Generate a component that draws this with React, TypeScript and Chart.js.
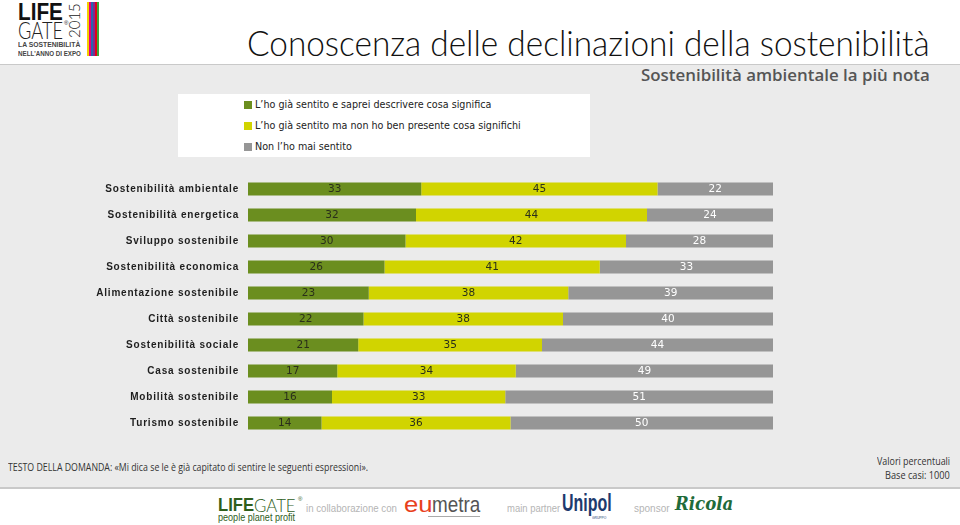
import React, { useEffect, useLayoutEffect, useRef } from 'react';
import { Chart, registerables } from 'chart.js';

Chart.register(...registerables);

const categories = [
  'Sostenibilità ambientale',
  'Sostenibilità energetica',
  'Sviluppo sostenibile',
  'Sostenibilità economica',
  'Alimentazione sostenibile',
  'Città sostenibile',
  'Sostenibilità sociale',
  'Casa sostenibile',
  'Mobilità sostenibile',
  'Turismo sostenibile',
];
const seriesLabels = [
  'L\u2019ho già sentito e saprei descrivere cosa significa',
  'L\u2019ho già sentito ma non ho ben presente cosa significhi',
  'Non l\u2019ho mai sentito',
];
const knowAndDescribe = [33, 32, 30, 26, 23, 22, 21, 17, 16, 14];
const knowVaguely = [45, 44, 42, 41, 38, 38, 35, 34, 33, 36];
const neverHeard = [22, 24, 28, 33, 39, 40, 44, 49, 51, 50];
const seriesColors = ['#6b8e1f', '#d1d400', '#969696'];
const valueColors = ['#2a2f1a', '#2a2f1a', '#ffffff'];

const titleText = 'Conoscenza delle declinazioni della sostenibilità';
const subtitleText = 'Sostenibilità ambientale la più nota';
const questionText = 'TESTO DELLA DOMANDA: «Mi dica se le è già capitato di sentire le seguenti espressioni».';
const noteLines = ['Valori percentuali', 'Base casi: 1000'];

type FitProps = { text: string; left: number; top: number; width: number; style: React.CSSProperties };
function FitText({ text, left, top, width, style }: FitProps) {
  const ref = useRef<HTMLSpanElement>(null);
  useLayoutEffect(() => {
    const el = ref.current;
    if (!el) return;
    el.style.transform = 'none';
    const w = el.offsetWidth;
    if (w > 0) el.style.transform = `scaleX(${width / w})`;
  }, [text, width]);
  return (
    <span
      ref={ref}
      style={{
        position: 'absolute',
        left,
        top,
        whiteSpace: 'nowrap',
        display: 'inline-block',
        transformOrigin: 'left top',
        lineHeight: 1,
        ...style,
      }}
    >
      {text}
    </span>
  );
}

function BarChart() {
  const canvasRef = useRef<HTMLCanvasElement>(null);
  useEffect(() => {
    const canvas = canvasRef.current;
    if (!canvas) return;
    const spacingPlugin = {
      id: 'tickSpacing',
      beforeDraw(chart: any) {
        chart.ctx.letterSpacing = '0.8px';
      },
      beforeDatasetsDraw(chart: any) {
        chart.ctx.letterSpacing = '0px';
      },
    };
    const valuePlugin = {
      id: 'values',
      afterDatasetsDraw(chart: any) {
        const ctx = chart.ctx;
        ctx.save();
        ctx.letterSpacing = '0px';
        ctx.font = '10.5px "DejaVu Sans", Verdana, sans-serif';
        ctx.textAlign = 'center';
        ctx.textBaseline = 'middle';
        chart.data.datasets.forEach((ds: any, di: number) => {
          const meta = chart.getDatasetMeta(di);
          meta.data.forEach((bar: any, i: number) => {
            ctx.fillStyle = valueColors[di];
            ctx.fillText(String(ds.data[i]), (bar.x + bar.base) / 2, bar.y);
          });
        });
        ctx.restore();
      },
    };
    const chart = new Chart(canvas, {
      type: 'bar',
      data: {
        labels: categories,
        datasets: [knowAndDescribe, knowVaguely, neverHeard].map((d, i) => ({
          label: seriesLabels[i],
          data: d,
          backgroundColor: seriesColors[i],
          borderWidth: 0,
          barPercentage: 1,
          categoryPercentage: 0.5,
        })),
      },
      options: {
        indexAxis: 'y',
        animation: false,
        responsive: true,
        maintainAspectRatio: false,
        layout: { padding: { left: 0, right: 187, top: 0, bottom: 0 } },
        plugins: { legend: { display: false }, tooltip: { enabled: false } },
        scales: {
          x: { stacked: true, min: 0, max: 100, display: false },
          y: {
            stacked: true,
            grid: { display: false },
            border: { display: false },
            afterFit(scale: any) {
              scale.width = 248;
              scale.paddingTop = 0;
              scale.paddingBottom = 0;
            },
            ticks: {
              padding: 1,
              color: '#1e1e1e',
              font: { family: '"Liberation Sans", Arial, sans-serif', size: 10, weight: 'bold' },
            },
          },
        },
      },
      plugins: [spacingPlugin, valuePlugin],
    } as any);
    return () => chart.destroy();
  }, []);
  return (
    <div style={{ position: 'absolute', left: 0, top: 176, width: 960, height: 260 }}>
      <canvas ref={canvasRef} />
    </div>
  );
}

const stripeColors = ['#f2cf00', '#e4007c', '#2a62ad', '#7b2d8e', '#e2001a', '#3aa935'];

export default function App() {
  useEffect(() => {
    document.body.style.margin = '0';
  }, []);
  return (
    <div style={{ position: 'absolute', left: 0, top: 0, width: 960, height: 525, background: '#ffffff', overflow: 'hidden', fontFamily: 'Arial, sans-serif' }}>
      {/* grey band */}
      <div style={{ position: 'absolute', left: 0, top: 64, width: 960, height: 422, background: '#ebebeb', borderTop: '1px solid #c9c9c9', borderBottom: '2px solid #c9c9c9' }} />

      {/* top-left logo */}
      <FitText text="LIFE" left={18} top={1} width={45} style={{ fontFamily: '"Liberation Sans", Arial', fontWeight: 'bold', fontSize: 23, color: '#111' }} />
      <FitText text="GATE" left={18} top={19} width={45} style={{ fontFamily: 'Lato, "Liberation Sans"', fontWeight: 300, fontSize: 23, color: '#222' }} />
      <FitText text="®" left={64} top={20} width={4} style={{ fontSize: 6, color: '#222' }} />
      <div style={{ position: 'absolute', left: 67, top: 38, transform: 'rotate(-90deg)', transformOrigin: 'left top', whiteSpace: 'nowrap', fontFamily: 'Lato, "Liberation Sans"', fontWeight: 300, fontSize: 15, lineHeight: 1, color: '#222' }}>2015</div>
      {stripeColors.map((c, i) => (
        <div key={c} style={{ position: 'absolute', left: 87 + i * 2, top: 2, width: 1.5, height: 54, background: c }} />
      ))}
      <FitText text="LA SOSTENIBILITÀ" left={18} top={41} width={62} style={{ fontFamily: '"Liberation Sans", Arial', fontWeight: 'bold', fontSize: 7, color: '#444' }} />
      <FitText text="NELL'ANNO DI EXPO" left={18} top={50} width={63} style={{ fontFamily: '"Liberation Sans", Arial', fontWeight: 'bold', fontSize: 7, color: '#444' }} />

      {/* title & subtitle */}
      <FitText text={titleText} left={247} top={25} width={683} style={{ fontFamily: 'Lato, "Open Sans", sans-serif', fontWeight: 300, fontSize: 35, color: '#111' }} />
      <FitText text={subtitleText} left={641} top={66} width={289} style={{ fontFamily: '"Open Sans", sans-serif', fontWeight: 600, fontSize: 17, color: '#555' }} />

      {/* legend */}
      <div style={{ position: 'absolute', left: 178, top: 94, width: 412, height: 63, background: '#ffffff' }} />
      {seriesLabels.map((label, i) => (
        <React.Fragment key={label}>
          <div style={{ position: 'absolute', left: 244, top: 101 + i * 21, width: 8, height: 8, background: seriesColors[i] }} />
          <span style={{ position: 'absolute', left: 255, top: 99 + i * 21, whiteSpace: 'nowrap', fontFamily: '"DejaVu Sans", Verdana, sans-serif', fontSize: 9.6, lineHeight: '12px', color: '#222' }}>{label}</span>
        </React.Fragment>
      ))}

      <BarChart />

      {/* footer notes */}
      <FitText text={questionText} left={8} top={461} width={360} style={{ fontFamily: '"Open Sans", sans-serif', fontSize: 11, color: '#333' }} />
      <FitText text={noteLines[0]} left={877} top={455} width={73} style={{ fontFamily: '"Open Sans", sans-serif', fontSize: 11, color: '#333' }} />
      <FitText text={noteLines[1]} left={885} top={469} width={65} style={{ fontFamily: '"Open Sans", sans-serif', fontSize: 11, color: '#333' }} />

      {/* sponsor strip */}
      <FitText text="LIFE" left={218} top={496} width={36} style={{ fontFamily: '"Liberation Sans", Arial', fontWeight: 'bold', fontSize: 18, color: '#2f5e1c' }} />
      <FitText text="GATE" left={254} top={496} width={42} style={{ fontFamily: 'Lato, "Liberation Sans"', fontWeight: 300, fontSize: 18, color: '#2f5e1c' }} />
      <FitText text="®" left={298} top={496} width={4} style={{ fontSize: 6, color: '#2f5e1c' }} />
      <FitText text="people planet profit" left={218} top={513} width={77} style={{ fontFamily: '"Liberation Sans", Arial', fontSize: 10, color: '#2f5e1c' }} />
      <FitText text="in collaborazione con" left={306} top={504} width={91} style={{ fontFamily: '"Liberation Sans", Arial', fontSize: 10, color: '#b5b5b5' }} />
      <FitText text="eu" left={404} top={494} width={28} style={{ fontFamily: '"Liberation Sans", Arial', fontSize: 22, color: '#e8401c' }} />
      <FitText text="metra" left={432} top={494} width={48} style={{ fontFamily: '"Liberation Sans", Arial', fontSize: 22, color: '#555' }} />
      <div style={{ position: 'absolute', left: 428, top: 516, width: 52, height: 1, background: '#aaa' }} />
      <FitText text="main partner" left={507} top={504} width={53} style={{ fontFamily: '"Liberation Sans", Arial', fontSize: 10, color: '#b5b5b5' }} />
      <FitText text="Unipol" left={562} top={492} width={50} style={{ fontFamily: '"Liberation Sans", Arial', fontWeight: 'bold', fontSize: 23, color: '#1d3a6e' }} />
      <FitText text="GRUPPO" left={592} top={516} width={14} style={{ fontFamily: '"Liberation Sans", Arial', fontSize: 4, color: '#1d3a6e' }} />
      <FitText text="sponsor" left={634} top={504} width={36} style={{ fontFamily: '"Liberation Sans", Arial', fontSize: 10, color: '#b5b5b5' }} />
      <FitText text="Ricola" left={675} top={495} width={58} style={{ fontFamily: '"DejaVu Serif", serif', fontWeight: 'bold', fontStyle: 'italic', fontSize: 18, color: '#1f6b3a' }} />
    </div>
  );
}
